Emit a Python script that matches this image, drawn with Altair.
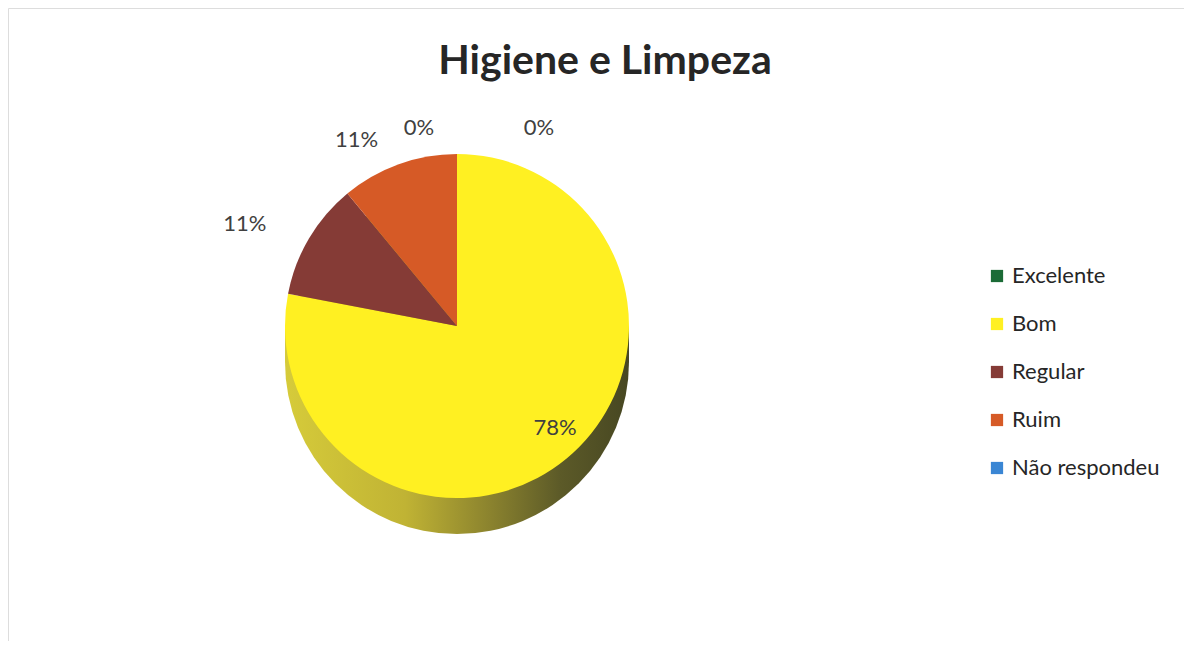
import altair as alt
import pandas as pd

categorias = ["Excelente", "Bom", "Regular", "Ruim", "Não respondeu"]
valores = [0, 78, 11, 11, 0]
rotulos = ["0%", "78%", "11%", "11%", "0%"]
cores = ["#1b6b36", "#fff022", "#853b36", "#d65a26", "#3a86d4"]

df = pd.DataFrame({
    "idx": list(range(len(categorias))),
    "categoria": categorias,
    "valor": valores,
    "rotulo": rotulos,
})

FONT = "Lato"
CX, CY, R, DEPTH = 449, 318, 172, 36

lado_grad = alt.LinearGradient(
    gradient="linear",
    x1=0, x2=1, y1=0, y2=0,
    stops=[
        alt.GradientStop(color="#d6cb3a", offset=0),
        alt.GradientStop(color="#c0b334", offset=0.35),
        alt.GradientStop(color="#8a822e", offset=0.6),
        alt.GradientStop(color="#5c5a28", offset=0.8),
        alt.GradientStop(color="#474722", offset=1),
    ],
)

base = alt.Chart(df)

lado_arc = base.mark_arc(theta=0, theta2=6.2832, radius=R, color=lado_grad).encode(
    x=alt.value(CX), y=alt.value(CY + DEPTH)
).transform_filter("datum.idx == 0")
lado_rect = base.mark_rect(color=lado_grad).encode(
    x=alt.value(CX - R), x2=alt.value(CX + R),
    y=alt.value(CY), y2=alt.value(CY + DEPTH)
).transform_filter("datum.idx == 0")

theta = alt.Theta("valor:Q", stack=True, scale=alt.Scale(domain=[0, 100]))
order = alt.Order("idx:Q", sort="ascending")

topo = base.mark_arc(radius=R).encode(
    x=alt.value(CX), y=alt.value(CY),
    theta=theta,
    order=order,
    color=alt.Color(
        "categoria:N",
        scale=alt.Scale(domain=categorias, range=cores),
        sort=categorias,
        legend=alt.Legend(
            title=None, orient="none", legendX=978, legendY=257,
            symbolType="square", symbolSize=150, symbolStrokeWidth=0,
            labelFont=FONT, labelFontSize=22, labelColor="#262626",
            rowPadding=26, labelOffset=4,
        ),
    ),
)

def texto(cond, raio, dx=0, dy=0):
    return base.transform_calculate(
        t=f"({cond}) ? datum.rotulo : ''"
    ).mark_text(
        radius=raio, font=FONT, fontSize=22, color="#404040", dx=dx, dy=dy
    ).encode(
        x=alt.value(CX), y=alt.value(CY),
        theta=theta, order=order, text="t:N",
    )

t_bom = texto("datum.categoria == 'Bom'", R * 0.62, dx=30, dy=20)
t_reg = texto("datum.categoria == 'Regular'", R + 28, dx=-40)
t_ruim = texto("datum.categoria == 'Ruim'", R + 24, dx=-34, dy=-2)
t_exc = texto("datum.categoria == 'Excelente'", R + 26, dx=82)
t_nr = texto("datum.categoria == 'Não respondeu'", R + 26, dx=-38)

titulo = alt.Chart(pd.DataFrame({"t": ["Higiene e Limpeza"]})).mark_text(
    font=FONT, fontSize=41, fontWeight="bold", color="#262626",
    baseline="alphabetic", align="center",
).encode(text="t:N", x=alt.value(597), y=alt.value(66))

chart = alt.layer(
    lado_arc, lado_rect, topo, t_bom, t_reg, t_ruim, t_exc, t_nr, titulo
).properties(
    width=1176, height=633, padding=0,
    autosize=alt.AutoSizeParams(type="none"),
).configure_view(stroke="#cfcfcf", strokeWidth=1.5).configure(background="white")

chart.save("out.html", embed_options={"renderer": "svg", "actions": False})
